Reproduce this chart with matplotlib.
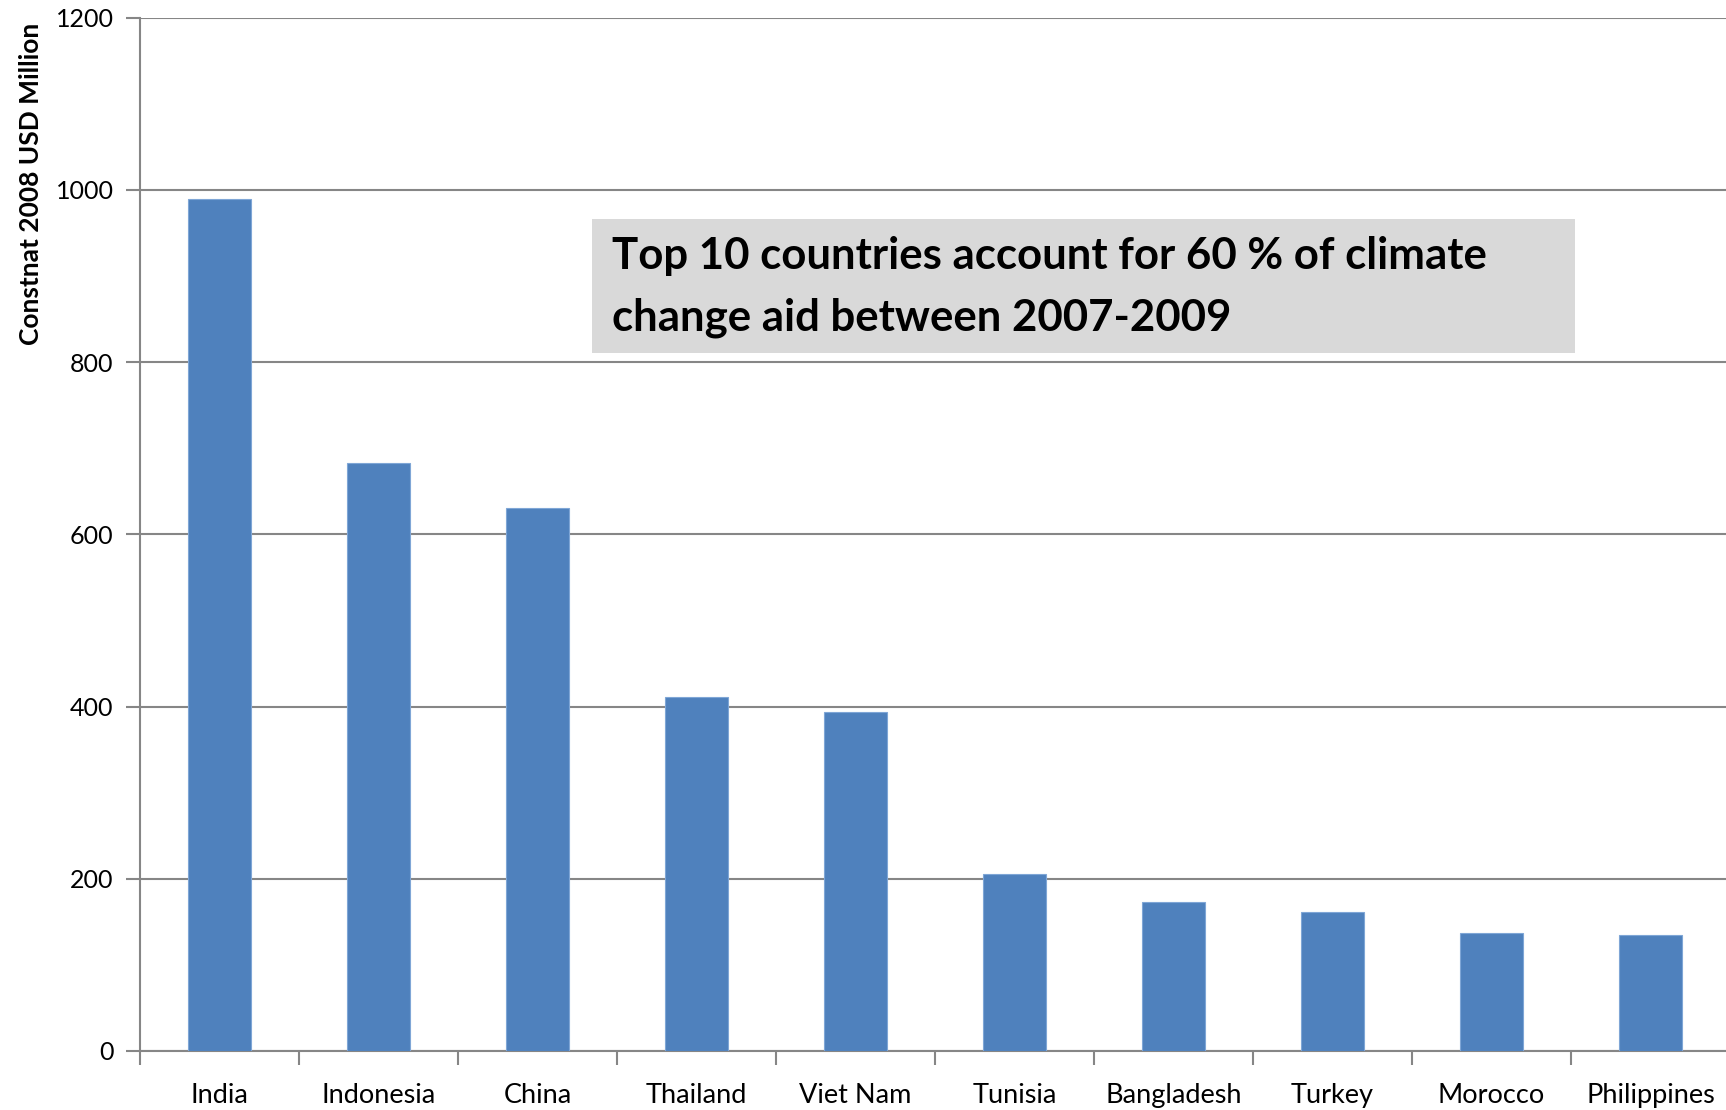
import matplotlib.pyplot as plt
import matplotlib.patches as mpatches
import numpy as np

countries = ["India", "Indonesia", "China", "Thailand", "Viet Nam",
             "Tunisia", "Bangladesh", "Turkey", "Morocco", "Philippines"]
aid_usd_million = [990, 683, 631, 411, 394, 205, 173, 161, 137, 135]
y_ticks = [0, 200, 400, 600, 800, 1000, 1200]

bar_color = "#4F81BD"
grid_color = "#868686"

plt.rcParams["font.family"] = ["Lato", "DejaVu Sans"]

fig = plt.figure(figsize=(17.26, 11.10), dpi=100)
ax = fig.add_axes([140 / 1726, 59 / 1110, 1590 / 1726, (1051 - 17.7) / 1110])

x = np.arange(len(countries))
ax.bar(x, aid_usd_million, width=0.4, color=bar_color,
       edgecolor="#7FA6D6", linewidth=0.8, zorder=3)

ax.set_xlim(-0.5, len(countries) - 0.5)
ax.set_ylim(0, 1200)
ax.set_yticks(y_ticks)
ax.set_yticklabels([str(v) for v in y_ticks], fontsize=18)
ax.yaxis.grid(True, color=grid_color, linewidth=1.5, zorder=0)

ax.set_xticks(x)
ax.set_xticklabels(countries, fontsize=19.5)
ax.set_xticks(np.arange(len(countries) + 1) - 0.5, minor=True)
ax.tick_params(axis="x", which="major", length=0, pad=23)
ax.tick_params(axis="x", which="minor", length=10, width=1.5, color=grid_color)
ax.tick_params(axis="y", length=10, width=1.5, color=grid_color, pad=9)

for side in ["top", "right"]:
    ax.spines[side].set_visible(False)
for side in ["left", "bottom"]:
    ax.spines[side].set_color(grid_color)
    ax.spines[side].set_linewidth(1.5)

fig.text(0.018, 0.834, "Constnat 2008 USD Million", rotation=90,
         ha="center", va="center", fontsize=19, fontweight="bold")

box = mpatches.Rectangle((592 / 1726, 1 - 353 / 1110), 983 / 1726, 134 / 1110,
                         transform=fig.transFigure, facecolor="#D9D9D9",
                         edgecolor="none", zorder=5)
fig.patches.append(box)
fig.text(612 / 1726, 1 - 256.5 / 1110,
         "Top 10 countries account for 60 % of climate",
         ha="left", va="center", fontsize=31.5, fontweight="bold", zorder=6)
fig.text(612 / 1726, 1 - 318 / 1110,
         "change aid between 2007-2009",
         ha="left", va="center", fontsize=31.5, fontweight="bold", zorder=6)

plt.savefig("out.png", dpi=100)
plt.close()
